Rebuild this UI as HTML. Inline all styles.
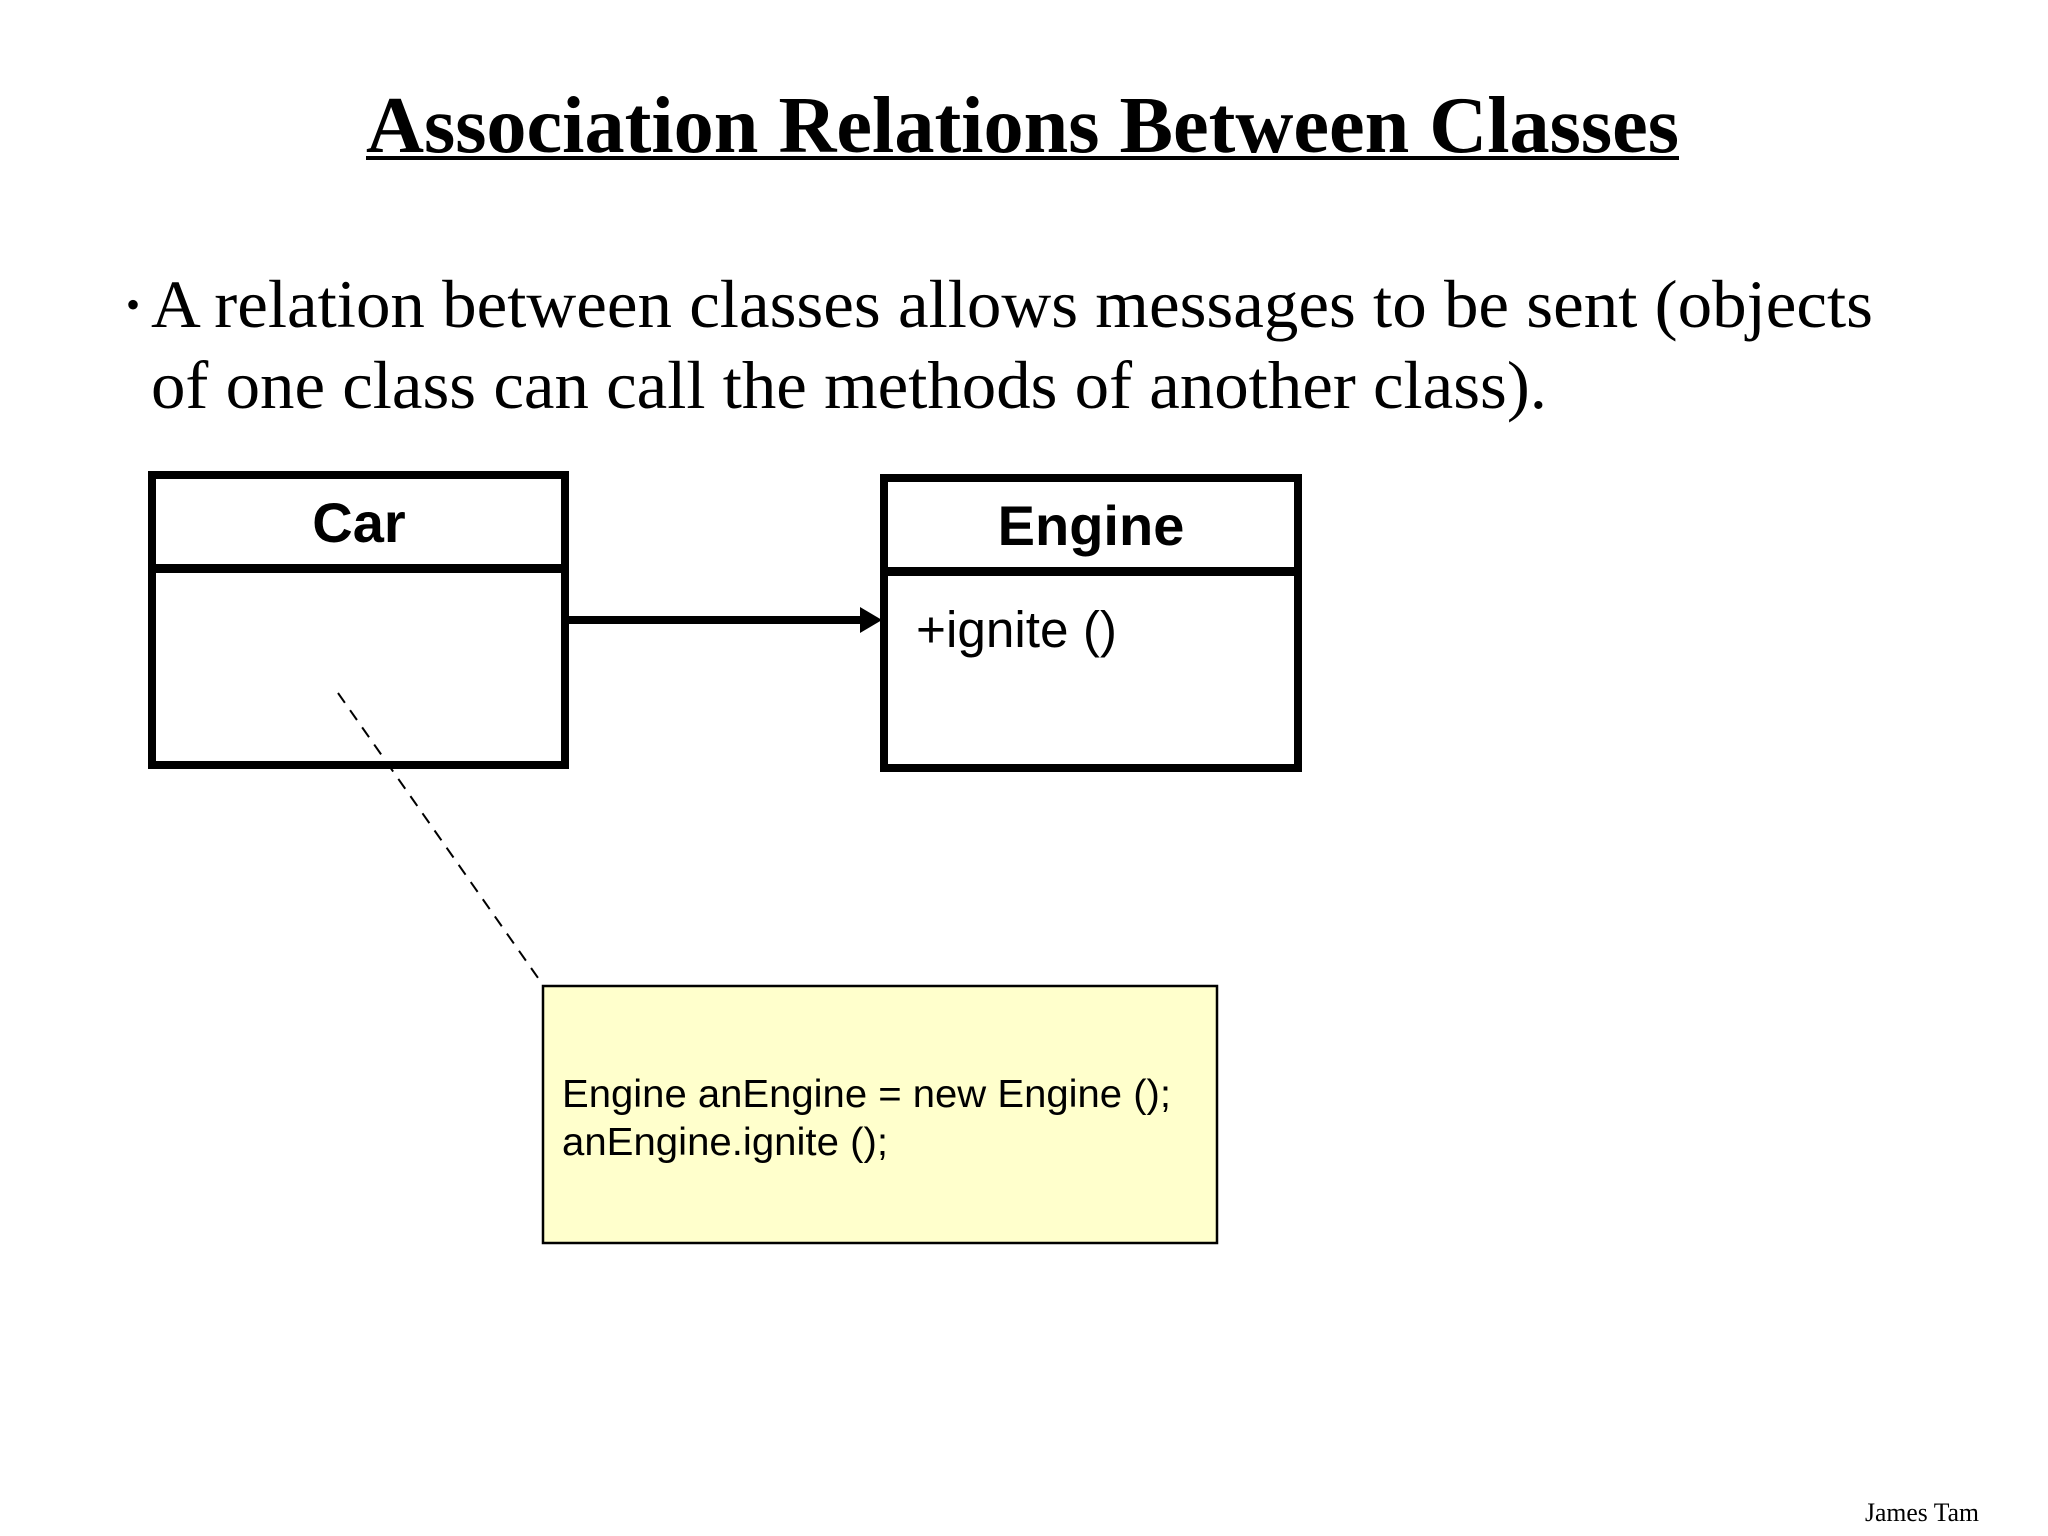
<!DOCTYPE html>
<html><head><meta charset="utf-8"><style>
html,body{margin:0;padding:0;background:#fff;}
svg{display:block;}
</style></head><body>
<svg width="2048" height="1536" viewBox="0 0 2048 1536" xmlns="http://www.w3.org/2000/svg">
<rect width="2048" height="1536" fill="#fff"/>
<text x="366" y="152" font-family="Liberation Serif, serif" font-weight="bold" font-size="80" textLength="1313" lengthAdjust="spacingAndGlyphs">Association Relations Between Classes</text>
<rect x="366" y="156" width="1313" height="4" fill="#000"/>
<text x="126" y="318" font-family="Liberation Serif, serif" font-size="40">•</text>
<text x="151" y="327" font-family="Liberation Serif, serif" font-size="68" textLength="1722" lengthAdjust="spacingAndGlyphs">A relation between classes allows messages to be sent (objects</text>
<text x="151" y="408" font-family="Liberation Serif, serif" font-size="68" textLength="1396" lengthAdjust="spacingAndGlyphs">of one class can call the methods of another class).</text>
<!-- Car -->
<rect x="152" y="475" width="413" height="290" fill="none" stroke="#000" stroke-width="8"/>
<rect x="148" y="564" width="421" height="9" fill="#000"/>
<text x="359" y="542" text-anchor="middle" font-family="Liberation Sans, sans-serif" font-weight="bold" font-size="56">Car</text>
<!-- Engine -->
<rect x="884" y="478" width="414" height="290" fill="none" stroke="#000" stroke-width="8"/>
<rect x="880" y="567" width="422" height="9" fill="#000"/>
<text x="1091" y="545" text-anchor="middle" font-family="Liberation Sans, sans-serif" font-weight="bold" font-size="56">Engine</text>
<text x="916" y="647" font-family="Liberation Sans, sans-serif" font-size="51" textLength="201" lengthAdjust="spacingAndGlyphs">+ignite ()</text>
<!-- arrow -->
<rect x="569" y="616" width="295" height="8" fill="#000"/>
<polygon points="860,607 882,620 860,633" fill="#000"/>
<!-- dashed -->
<line x1="338" y1="693" x2="543" y2="985" stroke="#000" stroke-width="2" stroke-dasharray="12,9"/>
<!-- note -->
<rect x="543" y="986" width="674" height="257" fill="#ffffcc" stroke="#000" stroke-width="2.5"/>
<text x="562" y="1107" font-family="Liberation Sans, sans-serif" font-size="39" textLength="609" lengthAdjust="spacingAndGlyphs">Engine anEngine = new Engine ();</text>
<text x="562" y="1155" font-family="Liberation Sans, sans-serif" font-size="39" textLength="326" lengthAdjust="spacingAndGlyphs">anEngine.ignite ();</text>
<text x="1865" y="1521" font-family="Liberation Serif, serif" font-size="26" textLength="114" lengthAdjust="spacingAndGlyphs">James Tam</text>
</svg>
</body></html>
